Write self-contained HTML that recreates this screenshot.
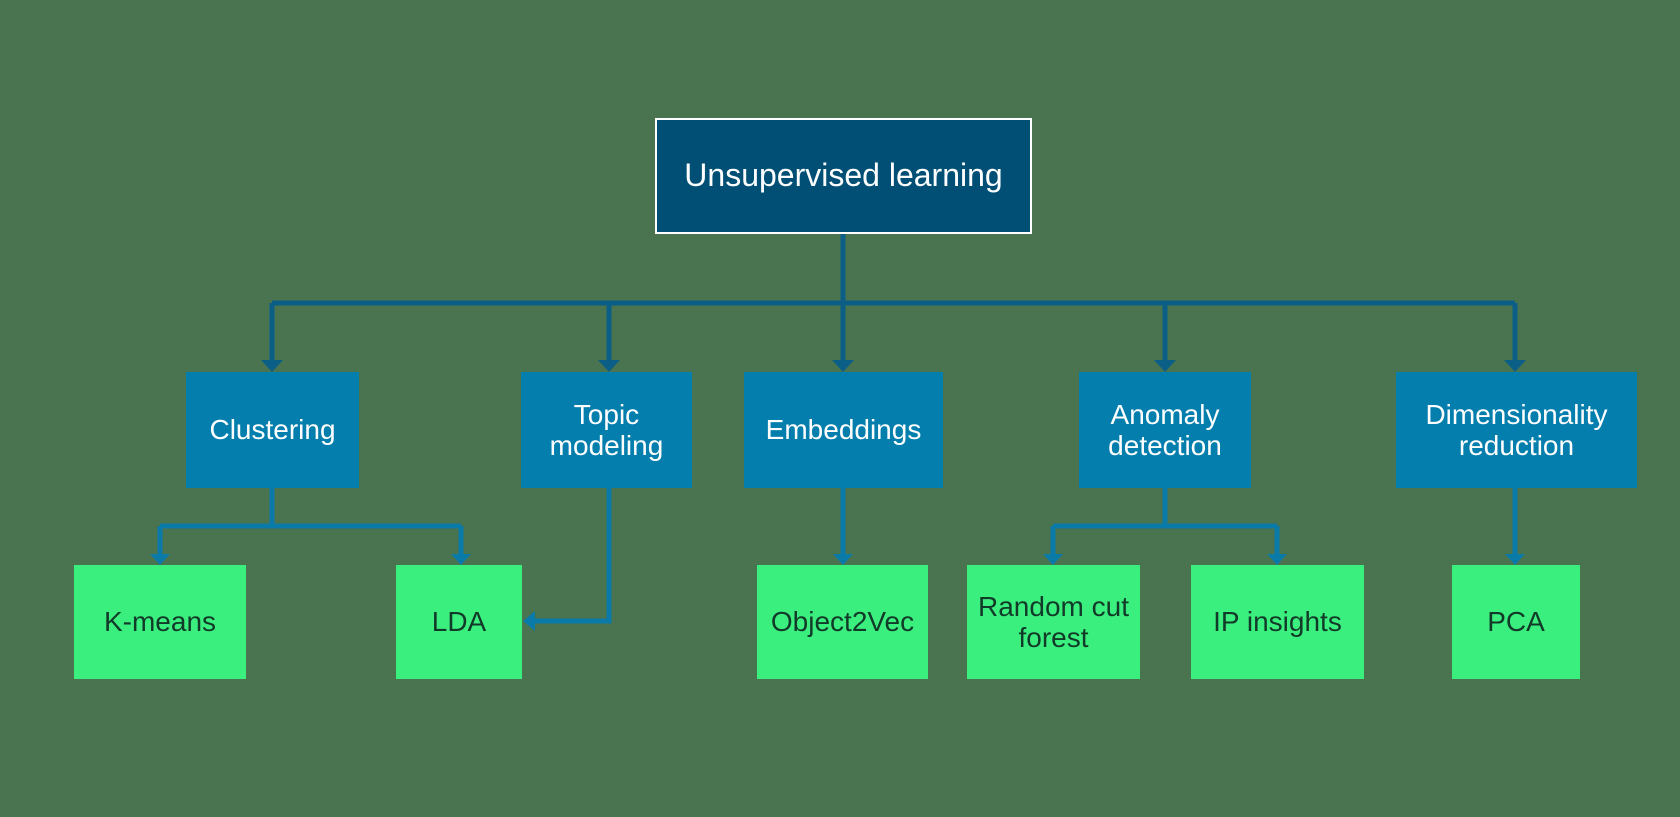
<!DOCTYPE html>
<html><head><style>
body{margin:0;width:1680px;height:817px;background:#4a7350;overflow:hidden;position:relative;font-family:"Liberation Sans",sans-serif}
.b{position:absolute;display:flex;align-items:center;justify-content:center;text-align:center;line-height:1.12;box-sizing:border-box}
.r{background:#014f74;border:2px solid #fff;color:#fff;font-size:32px}
.m{background:#047ead;color:#fff;font-size:28px}
.g{background:#3bef7f;color:#123a28;font-size:28px}
svg{position:absolute;left:0;top:0}
</style></head><body>
<svg width="1680" height="817">
<g stroke="#0b5f87" stroke-width="5" fill="none">
<path d="M843 234V303M272 303H1515M272 303V362M609 303V362M843 303V362M1165 303V362M1515 303V362"/>
</g>
<g fill="#0b5f87">
<path d="M261 360h22l-11 12z"/><path d="M598 360h22l-11 12z"/><path d="M832 360h22l-11 12z"/><path d="M1154 360h22l-11 12z"/><path d="M1504 360h22l-11 12z"/>
</g>
<g stroke="#0a7aa8" stroke-width="5" fill="none">
<path d="M272 488V526M160 526H461M160 526V555M461 526V555"/>
<path d="M609 488V621H534"/>
<path d="M843 488V555"/>
<path d="M1165 488V526M1053 526H1277M1053 526V555M1277 526V555"/>
<path d="M1515 488V555"/>
</g>
<g fill="#0a7aa8">
<path d="M150 554h20l-10 11z"/><path d="M451 554h20l-10 11z"/><path d="M833 554h20l-10 11z"/><path d="M1043 554h20l-10 11z"/><path d="M1267 554h20l-10 11z"/><path d="M1505 554h20l-10 11z"/>
<path d="M535 611v20l-12-10z"/>
</g>
</svg>
<div class="b r" style="left:655px;top:118px;width:377px;height:116px">Unsupervised learning</div>
<div class="b m" style="left:186px;top:372px;width:173px;height:116px">Clustering</div>
<div class="b m" style="left:521px;top:372px;width:171px;height:116px">Topic<br>modeling</div>
<div class="b m" style="left:744px;top:372px;width:199px;height:116px">Embeddings</div>
<div class="b m" style="left:1079px;top:372px;width:172px;height:116px">Anomaly<br>detection</div>
<div class="b m" style="left:1396px;top:372px;width:241px;height:116px">Dimensionality<br>reduction</div>
<div class="b g" style="left:74px;top:565px;width:172px;height:114px">K-means</div>
<div class="b g" style="left:396px;top:565px;width:126px;height:114px">LDA</div>
<div class="b g" style="left:757px;top:565px;width:171px;height:114px">Object2Vec</div>
<div class="b g" style="left:967px;top:565px;width:173px;height:114px">Random cut<br>forest</div>
<div class="b g" style="left:1191px;top:565px;width:173px;height:114px">IP insights</div>
<div class="b g" style="left:1452px;top:565px;width:128px;height:114px">PCA</div>
</body></html>
